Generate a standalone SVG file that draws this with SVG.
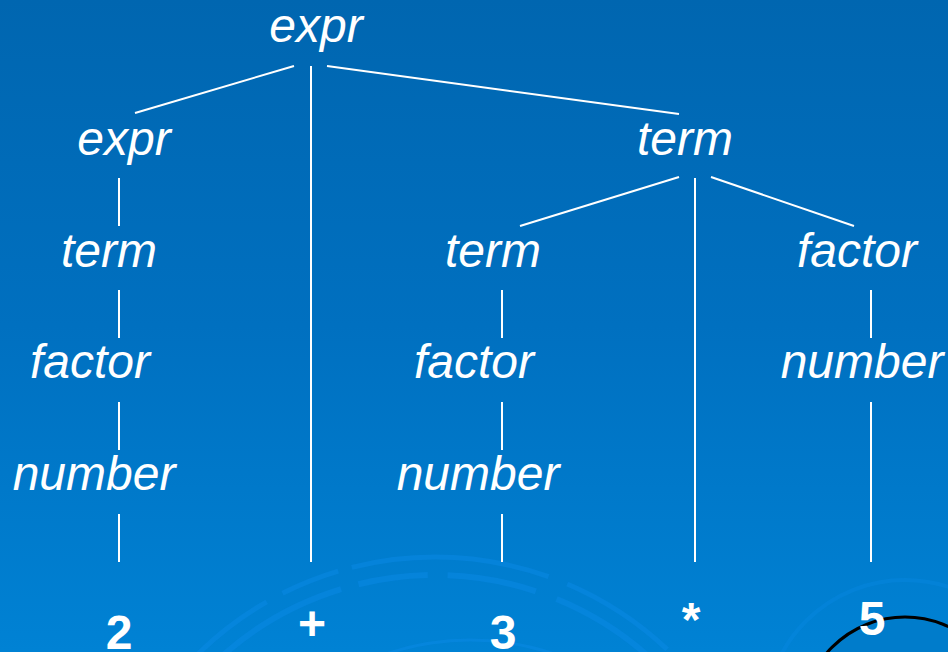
<svg xmlns="http://www.w3.org/2000/svg" width="948" height="652" viewBox="0 0 948 652">
<defs>
<linearGradient id="bg" x1="0" y1="0" x2="0" y2="1">
<stop offset="0" stop-color="#0066B0"/>
<stop offset="0.5" stop-color="#0070C0"/>
<stop offset="1" stop-color="#0082D4"/>
</linearGradient>
<style>
.n{font-family:"Liberation Sans",Arial,sans-serif;font-style:italic;font-size:48px;fill:#fff;text-anchor:middle}
.l{font-family:"Liberation Sans",Arial,sans-serif;font-weight:bold;font-size:48px;fill:#fff;text-anchor:middle}
.e{stroke:#fff;stroke-width:2;fill:none}
.d{fill:none;stroke:#0A8AE6;stroke-opacity:0.5}
</style>
</defs>
<rect width="948" height="652" fill="url(#bg)"/>
<g id="decor">
<circle class="d" cx="435" cy="895" r="338" stroke-width="5" stroke-dasharray="120 18 60 14 200 20"/>
<circle class="d" cx="435" cy="895" r="320" stroke-width="6" stroke-dasharray="90 22 160 18 70 20"/>
<circle class="d" cx="470" cy="900" r="260" stroke-width="3" stroke-opacity="0.3"/>
<circle cx="905" cy="720" r="140" fill="none" stroke="#0A8AE6" stroke-opacity="0.35" stroke-width="4"/>
<circle cx="905" cy="720" r="103" fill="#007CCB" stroke="#000" stroke-width="3"/>
<circle cx="905" cy="745" r="85" fill="#0A88DE"/>
</g>
<g id="connectors">
<line class="e" x1="294" y1="66" x2="135" y2="113"/>
<line class="e" x1="311" y1="66" x2="311" y2="562"/>
<line class="e" x1="327" y1="66" x2="679" y2="114"/>
<line class="e" x1="119" y1="178" x2="119" y2="226"/>
<line class="e" x1="119" y1="290" x2="119" y2="338"/>
<line class="e" x1="119" y1="402" x2="119" y2="450"/>
<line class="e" x1="119" y1="514" x2="119" y2="562"/>
<line class="e" x1="679" y1="177" x2="520" y2="226"/>
<line class="e" x1="695" y1="178" x2="695" y2="562"/>
<line class="e" x1="711" y1="177" x2="854" y2="226"/>
<line class="e" x1="502" y1="290" x2="502" y2="338"/>
<line class="e" x1="502" y1="402" x2="502" y2="450"/>
<line class="e" x1="502" y1="514" x2="502" y2="562"/>
<line class="e" x1="871" y1="290" x2="871" y2="338"/>
<line class="e" x1="871" y1="402" x2="871" y2="562"/>
</g>
<g id="n-expr-root"><text class="n" x="316" y="42">expr</text></g>
<g id="n-expr-left"><text class="n" x="124" y="155">expr</text></g>
<g id="n-term-right"><text class="n" x="685" y="155">term</text></g>
<g id="n-term-left"><text class="n" x="109" y="267">term</text></g>
<g id="n-term-mid"><text class="n" x="493" y="267">term</text></g>
<g id="n-factor-right"><text class="n" x="857" y="267">factor</text></g>
<g id="n-factor-left"><text class="n" x="90" y="378">factor</text></g>
<g id="n-factor-mid"><text class="n" x="474" y="378">factor</text></g>
<g id="n-number-right"><text class="n" x="862" y="378">number</text></g>
<g id="n-number-left"><text class="n" x="94" y="490">number</text></g>
<g id="n-number-mid"><text class="n" x="478" y="490">number</text></g>
<g id="n-2"><text class="l" x="119" y="649">2</text></g>
<g id="n-plus"><text class="l" x="312" y="640">+</text></g>
<g id="n-3"><text class="l" x="503" y="649">3</text></g>
<g id="n-star"><text class="l" x="691" y="636">*</text></g>
<g id="n-5"><text class="l" x="872" y="635">5</text></g>
</svg>
